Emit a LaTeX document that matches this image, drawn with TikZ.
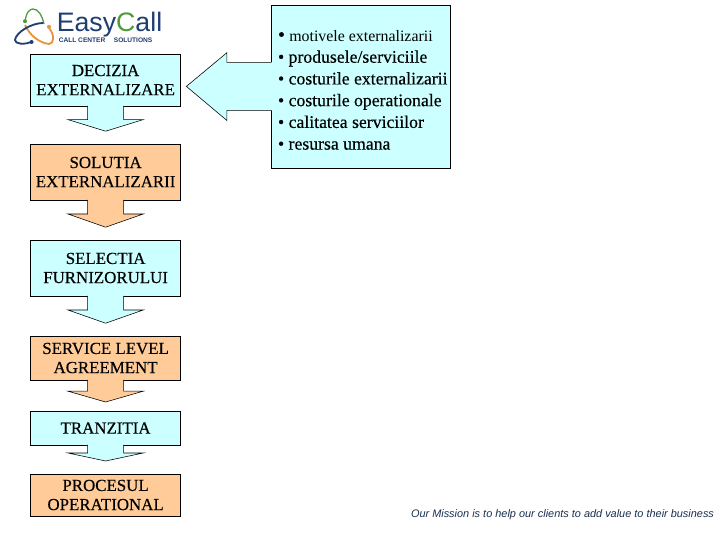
\documentclass[tikz,border=0pt]{standalone}
\usepackage{fontspec}
\setmainfont{Liberation Serif}
\setsansfont{Liberation Sans}
\newfontfamily\heavyfont{Liberation Serif}[FakeBold=0.35]
\definecolor{boxblue}{HTML}{CCFFFF}
\definecolor{boxorange}{HTML}{FFCC99}
\definecolor{logoblue}{HTML}{1F3F73}
\definecolor{logogreen}{HTML}{4F9A3C}
\definecolor{logoorange}{HTML}{E8943A}
\definecolor{missionblue}{HTML}{1A2F4F}
\newcommand{\stepfont}{\heavyfont\fontsize{12}{13.6}\selectfont}
% shaft half width 0.45, wing half width 0.94
\newcommand{\downshaft}[4]{
  \fill[#2]
    ([shift={(-0.45,0.03)}]#1.south) -- ++(0,-#3-0.03) -- ++(-0.49,0)
    -- ([yshift=-#4 cm]#1.south) -- ++(0.94,#4-#3) -- ++(-0.49,0) -- ([shift={(0.45,0.03)}]#1.south) -- cycle;
  \coordinate (#1tip) at ([yshift=-#4 cm]#1.south);
  \draw[thin]
    ([xshift=-0.45cm]#1.south) -- ++(0,-#3) -- ++(-0.49,0)
    -- (#1tip) -- ++(0.94,#4-#3) -- ++(-0.49,0) -- ([xshift=0.45cm]#1.south);
}
\begin{document}
\begin{tikzpicture}[every node/.style={align=center, outer sep=0pt},
    stepbox/.style={draw, thin, minimum width=3.75cm, font=\stepfont}]

  \useasboundingbox (0, 0) rectangle (18, 13.5);
  \fill[white] (0, 0) rectangle (18, 13.5);

  \node[stepbox, fill=boxblue, minimum height=1.3cm]
    (decizia) at (2.64, 11.5)
    {DECIZIA\\EXTERNALIZARE};

  \node[stepbox, fill=boxorange, minimum height=1.4cm]
    (solutia) at (2.64, 9.2)
    {SOLUTIA\\EXTERNALIZARII};

  \node[stepbox, fill=boxblue, minimum height=1.4cm]
    (selectia) at (2.64, 6.8)
    {SELECTIA\\FURNIZORULUI};

  \node[stepbox, fill=boxorange, minimum height=1.1cm]
    (sla) at (2.64, 4.55)
    {SERVICE LEVEL\\AGREEMENT};

  \node[stepbox, fill=boxblue, minimum height=0.85cm]
    (tranzitia) at (2.64, 2.8)
    {TRANZITIA};

  \node[stepbox, fill=boxorange, minimum height=1.05cm]
    (procesul) at (2.64, 1.125)
    {PROCESUL\\OPERATIONAL};

  \downshaft{decizia}{boxblue}{0.34}{0.63}
  \downshaft{solutia}{boxorange}{0.35}{0.68}
  \downshaft{selectia}{boxblue}{0.35}{0.68}
  \downshaft{sla}{boxorange}{0.28}{0.55}
  \downshaft{tranzitia}{boxblue}{0.2}{0.4}

  \node[draw, thin, fill=boxblue, minimum width=4.48cm, minimum height=4.07cm,
      inner sep=0pt]
    (motive) at (9.02, 11.34) {};

  \node[anchor=north west, align=left, inner sep=0pt, font=\heavyfont\fontsize{12.6}{15.45}\selectfont]
    (lista) at (6.95, 12.75)
    {{\fontsize{14}{15.45}\selectfont•} {\normalfont\fontsize{11.3}{15.45}\selectfont motivele externalizarii}\\
    • produsele/serviciile\\
    • costurile externalizarii\\
    • costurile operationale\\
    • calitatea serviciilor\\
    • resursa umana};

  % big arrow from the list to the first step
  \fill[boxblue]
    ([shift={(0.03,0.6)}]motive.west) -- ++(-1.14,0) -- ++(0,0.24)
    -- ([xshift=-2.12cm]motive.west) -- ++(1.01,-0.85) -- ++(0,0.25)
    -- ([shift={(0.03,-0.6)}]motive.west) -- cycle;
  \coordinate (motivetip) at ([xshift=-2.12cm]motive.west);
  \draw[thin]
    ([yshift=0.6cm]motive.west) -- ++(-1.11,0) -- ++(0,0.24)
    -- (motivetip) -- ++(1.01,-0.85) -- ++(0,0.25) -- ([yshift=-0.6cm]motive.west);

  % logo
  \draw[logogreen, line width=0.9pt] (0.625, 12.95) .. controls (0.65, 13.2) and (0.75, 13.275) .. (0.825, 13.275)
    .. controls (0.95, 13.275) and (1.05, 13.125) .. (1.1, 12.9);
  \draw[logoorange, line width=1.3pt] (0.625, 12.875) .. controls (0.75, 12.6) and (1.0, 12.425) .. (1.225, 12.4)
    .. controls (1.35, 12.4) and (1.375, 12.625) .. (1.225, 12.8);
  \draw[logoblue, line width=1.3pt] (1.075, 12.925) .. controls (0.8, 12.925) and (0.4, 12.7) .. (0.375, 12.5)
    .. controls (0.375, 12.4) and (0.6, 12.375) .. (0.775, 12.45);
  \fill[logogreen] (0.625, 12.97) circle (0.05);
  \fill[logoorange] (1.225, 12.83) circle (0.05);
  \fill[logoblue] (0.79, 12.45) circle (0.05);

  \node[anchor=base west, inner sep=0pt, text depth=0pt, font=\sffamily\fontsize{19}{19}\selectfont]
    (logotext) at (1.42, 12.71)
    {\textcolor{logoblue}{Easy}\textcolor{logogreen}{C}\textcolor{logoblue}{all}};

  \node[anchor=north west, inner sep=0pt, font=\sffamily\bfseries\fontsize{4.7}{5}\selectfont, text=logoblue]
    (logotag) at (1.47, 12.56)
    {CALL CENTER \quad SOLUTIONS};

  \node[anchor=east, inner sep=0pt, font=\sffamily\itshape\fontsize{7.77}{8}\selectfont, text=missionblue]
    (mission) at (17.85, 0.63)
    {Our Mission is to help our clients to add value to their business};

\end{tikzpicture}
\end{document}
